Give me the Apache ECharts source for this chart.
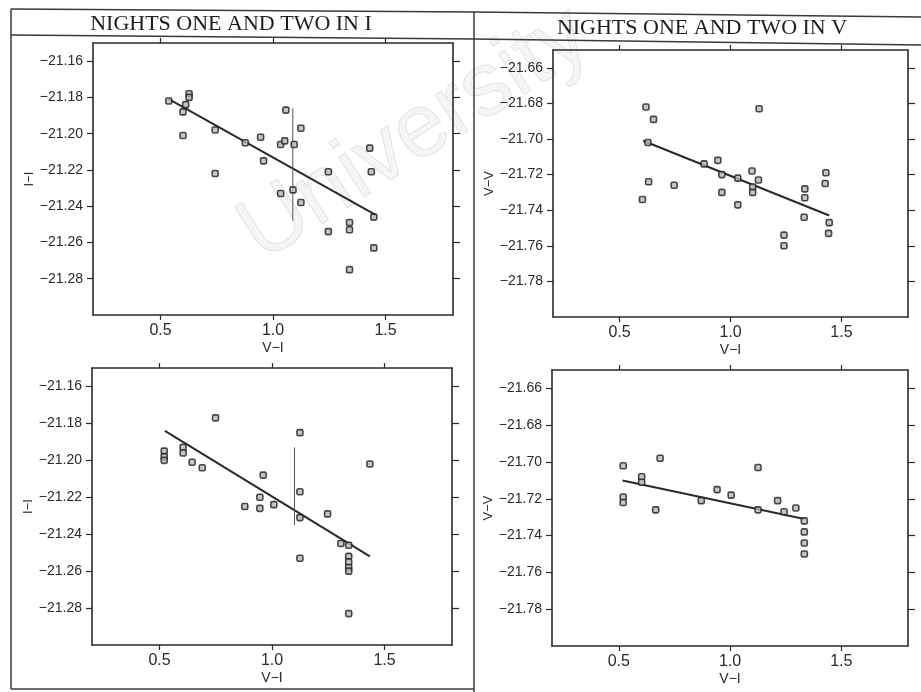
<!DOCTYPE html>
<html>
<head>
<meta charset="utf-8">
<script src="https://cdn.jsdelivr.net/npm/echarts@6/dist/echarts.min.js"></script>
<style>
html,body{margin:0;padding:0;background:#fff;}
#chart{width:921px;height:692px;}
</style>
</head>
<body>
<div id="chart"></div>
<script>
// Tick labels shared by the panels
const colourTicks = [0.5, 1.0, 1.5];
const iMagTicks = [-21.16, -21.18, -21.20, -21.22, -21.24, -21.26, -21.28];
const vMagTicks = [-21.66, -21.68, -21.70, -21.72, -21.74, -21.76, -21.78];

// Top left: I band, night one
const iTopColour = [0.537, 0.627, 0.627, 0.612, 0.600, 0.600, 0.743, 0.743, 0.877, 0.945, 0.958, 1.057, 1.034, 1.052, 1.094, 1.124, 1.034, 1.089, 1.124, 1.246, 1.246, 1.340, 1.340, 1.340, 1.430, 1.437, 1.448, 1.448];
const iTopMag = [-21.182, -21.178, -21.180, -21.184, -21.188, -21.201, -21.198, -21.222, -21.205, -21.202, -21.215, -21.187, -21.206, -21.204, -21.206, -21.197, -21.233, -21.231, -21.238, -21.221, -21.254, -21.249, -21.253, -21.275, -21.208, -21.221, -21.246, -21.263];
const iTopFitColour = [0.537, 1.46];
const iTopFitMag = [-21.181, -21.245];
const iTopBarColour = [1.088, 1.088];
const iTopBarMag = [-21.186, -21.248];

// Top right: V band, night one
const vTopColour = [0.619, 0.653, 0.628, 0.631, 0.603, 0.746, 0.881, 0.943, 0.961, 0.961, 1.033, 1.033, 1.097, 1.100, 1.100, 1.126, 1.129, 1.241, 1.241, 1.335, 1.335, 1.332, 1.430, 1.427, 1.445, 1.442];
const vTopMag = [-21.682, -21.689, -21.702, -21.724, -21.734, -21.726, -21.714, -21.712, -21.720, -21.730, -21.722, -21.737, -21.718, -21.727, -21.730, -21.723, -21.683, -21.754, -21.760, -21.728, -21.733, -21.744, -21.719, -21.725, -21.747, -21.753];
const vTopFitColour = [0.606, 1.445];
const vTopFitMag = [-21.701, -21.743];

// Bottom left: I band, night two
const iBottomColour = [0.749, 0.521, 0.521, 0.521, 0.605, 0.605, 0.645, 0.690, 0.879, 0.946, 0.946, 0.961, 1.008, 1.124, 1.124, 1.124, 1.124, 1.247, 1.306, 1.341, 1.341, 1.341, 1.341, 1.341, 1.341, 1.435];
const iBottomMag = [-21.177, -21.195, -21.198, -21.200, -21.193, -21.196, -21.201, -21.204, -21.225, -21.220, -21.226, -21.208, -21.224, -21.185, -21.217, -21.231, -21.253, -21.229, -21.245, -21.246, -21.252, -21.255, -21.258, -21.260, -21.283, -21.202];
const iBottomFitColour = [0.524, 1.435];
const iBottomFitMag = [-21.184, -21.252];
const iBottomBarColour = [1.10, 1.10];
const iBottomBarMag = [-21.193, -21.235];

// Bottom right: V band, night two
const vBottomColour = [0.520, 0.520, 0.520, 0.603, 0.603, 0.666, 0.686, 0.871, 0.942, 1.005, 1.126, 1.126, 1.214, 1.243, 1.296, 1.334, 1.334, 1.334, 1.334];
const vBottomMag = [-21.702, -21.719, -21.722, -21.708, -21.711, -21.726, -21.698, -21.721, -21.715, -21.718, -21.703, -21.726, -21.721, -21.727, -21.725, -21.732, -21.738, -21.744, -21.750];
const vBottomFitColour = [0.517, 1.334];
const vBottomFitMag = [-21.710, -21.731];

const ink = '#2a2a2a';
const sansFont = '"Liberation Sans", Arial, sans-serif';
const serifFont = '"Liberation Serif", "DejaVu Serif", serif';

const zip = (xs, ys) => xs.map((x, k) => [x, ys[k]]);
const magLabel = v => (v < 0 ? '\u2212' : '') + Math.abs(v).toFixed(2);

const panels = [
  { grid: { left: 93, top: 43, width: 360, height: 272 }, yMin: -21.30, yMax: -21.15, yTicks: iMagTicks, yName: 'I\u2212I',
    colour: iTopColour, mag: iTopMag, fitC: iTopFitColour, fitM: iTopFitMag, barC: iTopBarColour, barM: iTopBarMag },
  { grid: { left: 553, top: 50, width: 355, height: 267 }, yMin: -21.80, yMax: -21.65, yTicks: vMagTicks, yName: 'V\u2212V',
    colour: vTopColour, mag: vTopMag, fitC: vTopFitColour, fitM: vTopFitMag },
  { grid: { left: 92, top: 368, width: 360, height: 277 }, yMin: -21.30, yMax: -21.15, yTicks: iMagTicks, yName: 'I\u2212I',
    colour: iBottomColour, mag: iBottomMag, fitC: iBottomFitColour, fitM: iBottomFitMag, barC: iBottomBarColour, barM: iBottomBarMag },
  { grid: { left: 552, top: 370, width: 356, height: 276 }, yMin: -21.80, yMax: -21.65, yTicks: vMagTicks, yName: 'V\u2212V',
    colour: vBottomColour, mag: vBottomMag, fitC: vBottomFitColour, fitM: vBottomFitMag }
];

const axisLine = { show: true, onZero: false, lineStyle: { color: ink, width: 1.6 } };
const tickStyle = { color: ink, width: 1.2 };

const grids = [], xAxes = [], yAxes = [], series = [];
panels.forEach((p, g) => {
  grids.push(p.grid);
  xAxes.push({
    type: 'value', gridIndex: g, position: 'bottom', min: 0.2, max: 1.8,
    axisLine, splitLine: { show: false },
    axisTick: { show: true, length: 5, customValues: colourTicks, lineStyle: tickStyle },
    axisLabel: { show: true, customValues: colourTicks, margin: 8, color: ink, fontSize: 16, fontFamily: sansFont,
      formatter: v => v.toFixed(1) },
    name: 'V\u2212I', nameLocation: 'middle', nameGap: 26,
    nameTextStyle: { color: ink, fontSize: 14, fontFamily: sansFont }
  });
  xAxes.push({
    type: 'value', gridIndex: g, position: 'top', min: 0.2, max: 1.8,
    axisLine, splitLine: { show: false },
    axisTick: { show: true, length: 5, customValues: colourTicks, lineStyle: tickStyle },
    axisLabel: { show: false }
  });
  yAxes.push({
    type: 'value', gridIndex: g, position: 'left', min: p.yMin, max: p.yMax,
    axisLine, splitLine: { show: false },
    axisTick: { show: true, length: 6, customValues: p.yTicks, lineStyle: tickStyle },
    axisLabel: { show: true, customValues: p.yTicks, margin: 10, color: ink, fontSize: 14, fontFamily: sansFont,
      formatter: magLabel },
    name: p.yName, nameLocation: 'middle', nameGap: 52,
    nameTextStyle: { color: ink, fontSize: 13, fontFamily: sansFont }
  });
  yAxes.push({
    type: 'value', gridIndex: g, position: 'right', min: p.yMin, max: p.yMax,
    axisLine, splitLine: { show: false },
    axisTick: { show: true, length: 7, customValues: p.yTicks, lineStyle: tickStyle },
    axisLabel: { show: false }
  });

  series.push({
    type: 'scatter', xAxisIndex: 2 * g, yAxisIndex: 2 * g,
    data: zip(p.colour, p.mag), symbol: 'roundRect', symbolSize: 6,
    itemStyle: { color: '#b8b8b8', borderColor: '#1e1e1e', borderWidth: 1.6 }, z: 3
  });
  series.push({
    type: 'line', xAxisIndex: 2 * g, yAxisIndex: 2 * g,
    data: zip(p.fitC, p.fitM), symbol: 'none',
    lineStyle: { color: ink, width: 2 }, z: 2
  });
  if (p.barC) {
    series.push({
      type: 'line', xAxisIndex: 2 * g, yAxisIndex: 2 * g,
      data: zip(p.barC, p.barM), symbol: 'none',
      lineStyle: { color: '#555', width: 1 }, z: 2
    });
  }
});

const frame = { stroke: '#3a3a3a', lineWidth: 1.5 };
const option = {
  animation: false,
  backgroundColor: '#ffffff',
  grid: grids,
  xAxis: xAxes,
  yAxis: yAxes,
  series,
  graphic: [
    { type: 'text', z: -10, x: 415, y: 135, rotation: 0.57,
      style: { text: 'University', fill: 'rgba(0,0,0,0.04)', stroke: 'rgba(0,0,0,0.10)', lineWidth: 1,
        font: '90px "Liberation Sans", Arial, sans-serif', textAlign: 'center', textVerticalAlign: 'middle' } },
    { type: 'polyline', shape: { points: [[11, 9], [474, 12], [921, 17]] }, style: frame },
    { type: 'polyline', shape: { points: [[11, 35], [474, 39], [921, 45]] }, style: frame },
    { type: 'line', shape: { x1: 11, y1: 9, x2: 11, y2: 689 }, style: frame },
    { type: 'line', shape: { x1: 474, y1: 12, x2: 474, y2: 692 }, style: frame },
    { type: 'line', shape: { x1: 11, y1: 689, x2: 474, y2: 689 }, style: frame },
    { type: 'text', x: 231, y: 24,
      style: { text: 'NIGHTS ONE AND TWO IN I', fill: '#1e1e1e', font: '22px ' + serifFont,
        textAlign: 'center', textVerticalAlign: 'middle' } },
    { type: 'text', x: 702, y: 28,
      style: { text: 'NIGHTS ONE AND TWO IN V', fill: '#1e1e1e', font: '22px ' + serifFont,
        textAlign: 'center', textVerticalAlign: 'middle' } }
  ]
};

const chart = echarts.init(document.getElementById('chart'), null, { renderer: 'canvas' });
chart.setOption(option);
</script>
</body>
</html>
